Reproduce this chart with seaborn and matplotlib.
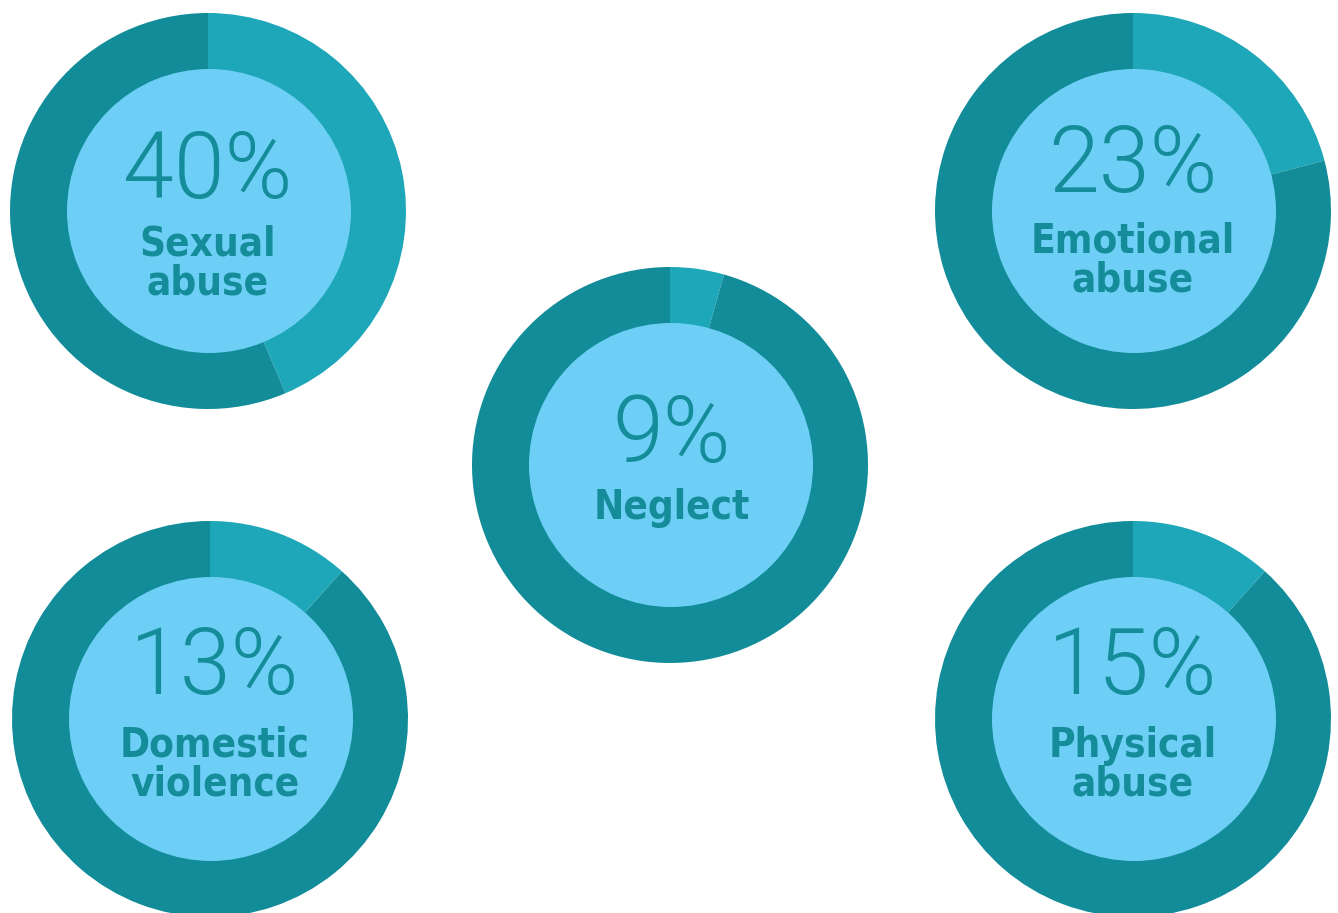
import matplotlib
matplotlib.use("Agg")
import matplotlib.pyplot as plt
import seaborn as sns
from matplotlib import font_manager as fm

sns.set_theme(style="white")
plt.rcParams['font.family'] = ['DejaVu Sans']

# Data
categories = ["Sexual\nabuse", "Emotional\nabuse", "Neglect", "Domestic\nviolence", "Physical\nabuse"]
label_pcts = [40, 23, 9, 13, 15]
# share of the ring drawn in the lighter colour (% of full circle)
wedge_shares = [43.6, 20.9, 4.4, 11.6, 11.6]

# layout (pixel positions of donut centres, y measured from top)
centers = [(208, 211), (1133, 211), (670, 465), (210, 719), (1133, 719)]
num_offsets = [-38, -44, -28, -50, -50]
lab_offsets = [53, 50, 43, 46, 46]
text_dx = [0, 0, 2, 5, 0]

W, H = 1338, 913
R_OUT, R_IN = 198, 142
DARK = "#128C99"
LIGHT = "#1DA7B8"
INNER = "#6DCFF5"
TXT = "#148C99"

names = sorted({f.name + "|" + str(f.stretch) + "|" + str(f.weight) for f in fm.fontManager.ttflist})
print([n for n in names if "Condensed" in n or "Narrow" in n or "condensed" in n])

fig = plt.figure(figsize=(W / 100, H / 100), dpi=100)
ax = fig.add_axes([0, 0, 1, 1])
ax.set_xlim(0, W)
ax.set_ylim(0, H)
ax.set_aspect("equal")
ax.axis("off")

for cat, pct, share, (cx, cy), no, lo, dx in zip(categories, label_pcts, wedge_shares,
                                                 centers, num_offsets, lab_offsets, text_dx):
    y = H - cy
    ax.pie([share, 100 - share], colors=[LIGHT, DARK], radius=R_OUT, center=(cx, y),
           startangle=90, counterclock=False, wedgeprops=dict(linewidth=0), frame=True)
    ax.pie([1], colors=[INNER], radius=R_IN, center=(cx + 1, y),
           wedgeprops=dict(linewidth=0), frame=True)
    ax.text(cx + dx, y - no, f"{pct}%", ha="center", va="center", color=TXT,
            fontsize=66, family=["Roboto", "DejaVu Sans"], fontweight=300)
    ax.text(cx + dx, y - lo, cat, ha="center", va="center", color=TXT,
            fontsize=29, family=["DejaVu Sans"], fontweight="bold", fontstretch="condensed",
            linespacing=0.95)

ax.set_xlim(0, W)
ax.set_ylim(0, H)
ax.axis("off")
fig.savefig("out.png", dpi=100)
